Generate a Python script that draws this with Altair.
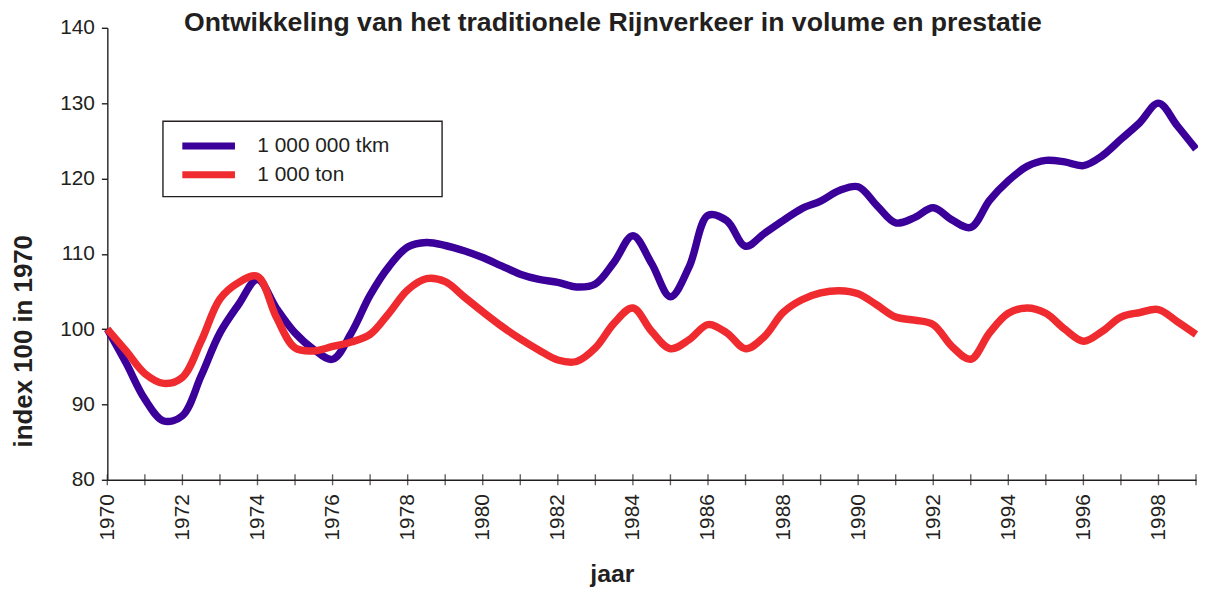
import altair as alt
import pandas as pd

TITLE = "Ontwikkeling van het traditionele Rijnverkeer in volume en prestatie"
SERIES = ["1 000 000 tkm", "1 000 ton"]
COLORS = ["#3a0099", "#ef2b2f"]

# half-year points 1970.0 ... 1999.0
PERIODS = [1970 + i / 2 for i in range(59)]

TKM = [100.0, 95.5, 90.7, 87.8, 88.5, 93.8, 99.5, 103.3, 106.6, 102.8,
       99.5, 97.3, 96.0, 99.5, 104.5, 108.3, 110.9, 111.5, 111.1, 110.4,
       109.5, 108.4, 107.3, 106.6, 106.2, 105.6, 106.0, 108.9, 112.4, 108.7,
       104.3, 108.3, 115.1, 114.4, 111.0, 112.7, 114.4, 116.0, 117.0, 118.4,
       118.9, 116.4, 114.1, 114.8, 116.1, 114.5, 113.5, 117.1, 119.7, 121.6,
       122.4, 122.2, 121.7, 123.0, 125.2, 127.4, 130.0, 127.0, 123.9]

TON = [100.0, 97.1, 94.1, 92.8, 93.6, 98.4, 104.0, 106.2, 107.0, 101.6,
       97.5, 97.1, 97.7, 98.3, 99.3, 102.1, 105.2, 106.7, 106.3, 104.3,
       102.3, 100.4, 98.7, 97.2, 95.9, 95.7, 97.5, 100.8, 102.8, 99.7,
       97.4, 98.6, 100.6, 99.5, 97.4, 99.0, 102.2, 103.9, 104.8, 105.1,
       104.7, 103.2, 101.6, 101.2, 100.6, 97.7, 96.0, 99.5, 102.1, 102.8,
       102.1, 100.0, 98.4, 99.7, 101.6, 102.2, 102.6, 101.0, 99.3]

TICK_YEARS = list(range(1970, 2000))
LABEL_YEARS = list(range(1970, 1999, 2))
Y_TICKS = [80, 90, 100, 110, 120, 130, 140]

INK = "#231f20"
FONT = "Liberation Sans"

df = pd.DataFrame({
    "jaar": PERIODS * 2,
    "index": TKM + TON,
    "reeks": [SERIES[0]] * len(PERIODS) + [SERIES[1]] * len(PERIODS),
})
ticks_df = pd.DataFrame({"jaar": TICK_YEARS})
one_row = pd.DataFrame({"t": [TITLE]})

x_scale = alt.Scale(domain=[1970, 1999], nice=False, zero=False)
y_scale = alt.Scale(domain=[80, 140], nice=False, zero=False)

# frame drawn behind the legend (legend box in the reference is wider than its content)
legend_frame = alt.Chart(one_row).mark_rect(
    fill="white", stroke=INK, strokeWidth=1.4
).encode(
    x=alt.value(56), x2=alt.value(337), y=alt.value(94), y2=alt.value(170)
)

lines = alt.Chart(df).mark_line(
    strokeWidth=7.5, interpolate="catmull-rom", strokeCap="butt"
).encode(
    x=alt.X("jaar:Q", scale=x_scale,
            axis=alt.Axis(values=LABEL_YEARS, format="d", labelAngle=270,
                          labelAlign="right", labelBaseline="middle",
                          labelPadding=14, ticks=False, tickSize=0,
                          grid=False, title="jaar",
                          titleX=508, titleY=102, titleAlign="center",
                          titleBaseline="alphabetic", titleFontSize=25,
                          titleFontWeight="bold", labelFlush=False)),
    y=alt.Y("index:Q", scale=y_scale,
            axis=alt.Axis(values=Y_TICKS, tickSize=6, labelPadding=7,
                          grid=False, title="index 100 in 1970",
                          titleX=-84, titleY=315, titleAngle=270,
                          titleAlign="center", titleBaseline="middle",
                          titleFontSize=26, titleFontWeight="bold",
                          labelFlush=False)),
    color=alt.Color("reeks:N",
                    scale=alt.Scale(domain=SERIES, range=COLORS),
                    sort=SERIES,
                    legend=alt.Legend(
                        title=None, orient="none", legendX=56, legendY=94,
                        symbolType="stroke", symbolSize=53 * 53,
                        symbolStrokeWidth=7, clipHeight=18, rowPadding=8,
                        labelOffset=19, padding=16, labelLimit=400,
                        labelFontSize=21, labelFont=FONT, labelColor=INK,
                    )),
    detail="reeks:N",
)

xticks = alt.Chart(ticks_df).mark_tick(
    orient="vertical", size=11, thickness=1.4, color=INK
).encode(
    x=alt.X("jaar:Q", scale=x_scale),
    y=alt.datum(80, scale=y_scale),
)

title_text = alt.Chart(one_row).mark_text(
    font=FONT, fontSize=26.8, fontWeight="bold", color=INK,
    align="center", baseline="alphabetic"
).encode(
    text="t:N", x=alt.value(509), y=alt.value(3.5)
)

chart = alt.layer(legend_frame, lines, xticks, title_text).properties(
    width=1096,
    height=455,
    padding={"left": 100, "top": 18, "right": 2, "bottom": 106},
    autosize=alt.AutoSizeParams(type="none"),
).configure_view(
    stroke=None
).configure_axis(
    domainColor=INK, domainWidth=1.4, tickColor=INK, tickWidth=1.4,
    labelFont=FONT, labelFontSize=21, labelColor=INK,
    titleFont=FONT, titleColor=INK,
)

chart.save("out.html", embed_options={"renderer": "svg", "actions": False})
